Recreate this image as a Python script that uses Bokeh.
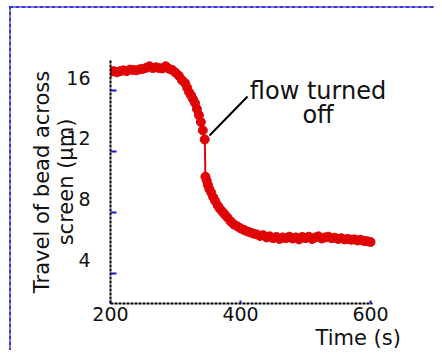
from bokeh.plotting import figure
from bokeh.models import Label, Range1d, FixedTicker, Title
from bokeh.embed import file_html
from bokeh.resources import INLINE

# ---- data ----
time_s = [200, 205, 210, 215, 220, 225, 230, 235, 240, 245, 250, 255, 260, 265, 270,
          275, 280, 285, 290, 295, 300, 305, 310, 315, 318, 321, 324, 327, 330, 333,
          336, 339, 342, 345, 346, 348, 350, 352, 355, 358, 361, 365, 368, 372, 376,
          380, 385, 390, 395, 400, 405, 410, 415, 420, 425, 430, 435, 440, 445, 450,
          455, 460, 465, 470, 475, 480, 485, 490, 495, 500, 505, 510, 515, 520, 525,
          530, 535, 540, 545, 550, 555, 560, 565, 570, 575, 580, 585, 590, 595, 600]
travel_um = [17.25, 17.30, 17.22, 17.30, 17.35, 17.30, 17.40, 17.38, 17.35, 17.42,
             17.45, 17.52, 17.62, 17.50, 17.55, 17.50, 17.48, 17.62, 17.45, 17.38,
             17.20, 17.00, 16.70, 16.50, 16.20, 15.90, 15.70, 15.45, 15.20, 14.80,
             14.40, 13.95, 13.40, 12.80, 10.35, 10.10, 9.80, 9.55, 9.30, 9.00,
             8.75, 8.45, 8.25, 8.05, 7.85, 7.65, 7.40, 7.20, 7.08, 6.95,
             6.85, 6.75, 6.68, 6.60, 6.55, 6.45, 6.50, 6.35, 6.42, 6.30,
             6.38, 6.25, 6.35, 6.30, 6.40, 6.28, 6.35, 6.22, 6.38, 6.30,
             6.40, 6.25, 6.35, 6.42, 6.28, 6.35, 6.40, 6.30, 6.33, 6.25,
             6.30, 6.22, 6.25, 6.20, 6.22, 6.15, 6.20, 6.12, 6.10, 6.05]

x_ticks = [200, 400, 600]
x_axis_bounds = (200, 603)
y_ticks = [4, 8, 12, 16]

x_title = "Time (s)"
y_title = "Travel of bead across\nscreen (\u00b5m)"
note_lines = ["flow turned", "off"]
note_pos = (519.2, [16.02, 14.38])
note_pointer = ([352.3, 410.8], [13.06, 15.63])

FONT = "DejaVu Sans"
RED = "#e00404"
BLUE = "#1a1ad0"
INK = "#111111"

p = figure(width=434, height=350, output_backend="svg", toolbar_location=None,
           x_range=Range1d(200, 683), y_range=Range1d(2, 18),
           min_border_left=110, min_border_right=10,
           min_border_top=60, min_border_bottom=47,
           background_fill_color=None, border_fill_color=None)
p.styles = {
    "background-image": ("repeating-linear-gradient(90deg, #3434d8 0px, #3434d8 3px, "
                         "#7c7cf2 3px, #7c7cf2 6px), "
                         "repeating-linear-gradient(180deg, #3434d8 0px, #3434d8 3px, "
                         "#7c7cf2 3px, #7c7cf2 6px)"),
    "background-size": "100% 2px, 2px 100%",
    "background-position": "10px 6px, 9px 6px",
    "background-repeat": "no-repeat",
}
p.grid.visible = False
p.outline_line_color = None

for ax in (p.xaxis[0], p.yaxis[0]):
    ax.axis_line_color = "black"
    ax.axis_line_width = 2
    ax.axis_line_dash = "3 1"
    ax.major_tick_line_color = BLUE
    ax.major_tick_line_width = 2
    ax.major_tick_out = 0
    ax.minor_tick_line_color = None
    ax.major_label_text_font = FONT
    ax.major_label_text_font_size = "19px"
    ax.major_label_text_color = INK

p.xaxis[0].ticker = FixedTicker(ticks=x_ticks)
p.xaxis[0].bounds = x_axis_bounds
p.xaxis[0].major_tick_in = 3
p.xaxis[0].major_label_standoff = 3
p.yaxis[0].ticker = FixedTicker(ticks=y_ticks)
p.yaxis[0].major_tick_in = 6
p.yaxis[0].major_label_standoff = 20
# labels sit a little above their tick marks in the original
p.yaxis[0].major_label_overrides = {t: f"{t}\n" for t in y_ticks}
p.yaxis[0].axis_label = y_title
p.yaxis[0].axis_label_text_font = FONT
p.yaxis[0].axis_label_text_font_size = "21px"
p.yaxis[0].axis_label_text_font_style = "normal"
p.yaxis[0].axis_label_text_color = INK
p.yaxis[0].axis_label_standoff = -15
p.yaxis[0].axis_label_text_line_height = 1.0

# x-axis title, sitting under the right part of the axis
p.add_layout(Title(text=x_title, align="left", offset=205, standoff=0,
                   text_font=FONT, text_font_size="21px", text_font_style="normal",
                   text_color=INK), "below")

# data
p.line(time_s, travel_um, line_color=RED, line_width=2)
p.scatter(time_s, travel_um, size=9, fill_color=RED, line_color=RED)

# pointer line
p.segment(x0=[note_pointer[0][0]], y0=[note_pointer[1][0]],
          x1=[note_pointer[0][1]], y1=[note_pointer[1][1]],
          line_color="black", line_width=2)

# annotation
for txt, yy in zip(note_lines, note_pos[1]):
    p.add_layout(Label(x=note_pos[0], y=yy, text=txt, text_font=FONT,
                       text_font_size="24px", text_align="center",
                       text_baseline="alphabetic", text_color=INK))

open("out.html", "w").write(file_html(p, INLINE))
